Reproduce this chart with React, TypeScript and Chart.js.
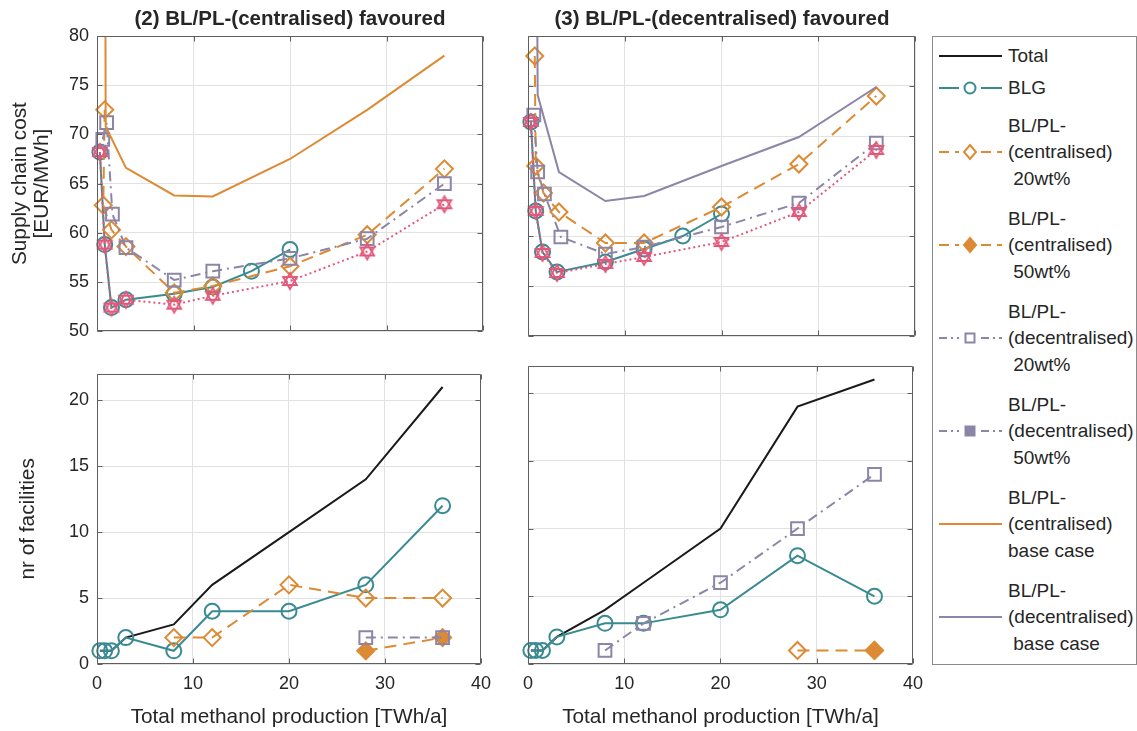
import React, { useEffect, useRef } from 'react';
import { Chart, registerables } from 'chart.js';

Chart.register(...registerables);

const FONT = '"Liberation Sans", Arial, Helvetica, sans-serif';
const C_TEAL = '#3a8b91';
const C_ORANGE = '#dc8a33';
const C_PURPLE = '#8c85a7';
const C_PINK = '#e2587a';
const C_BLACK = '#1a1a1a';
const C_AXIS = '#5f5f5f';
const C_GRID = '#e2e2e2';
const C_TEXT = '#262626';

// ---------- tick values ----------
const xTicks = [0, 10, 20, 30, 40];
const costTicks = [50, 55, 60, 65, 70, 75, 80];
const facTicks = [0, 5, 10, 15, 20];

// ---------- (2) centralised favoured: supply chain cost ----------
const tlBlgX = [0.3, 0.8, 1.5, 3, 8, 12, 16, 20];
const tlBlgY = [68.2, 58.8, 52.4, 53.2, 53.8, 54.5, 56.1, 58.3];
const tlCen20X = [0.8, 0.65, 1.5, 3, 8, 12, 20, 28, 36];
const tlCen20Y = [72.5, 62.8, 60.3, 58.6, 53.9, 54.6, 56.6, 59.8, 66.5];
const tlDec20X = [0.6, 1.0, 1.6, 3, 8, 12, 20, 28, 36];
const tlDec20Y = [69.5, 71.2, 61.9, 58.5, 55.2, 56.1, 57.4, 59.4, 65.0];
const tlCenBaseX = [0.8, 0.9, 3, 8, 12, 20, 28, 36];
const tlCenBaseY = [110, 70.8, 66.6, 63.8, 63.7, 67.5, 72.5, 78.0];
const tlMinX = [0.3, 0.8, 1.5, 3, 8, 12, 20, 28, 36];
const tlMinY = [68.2, 58.8, 52.4, 53.2, 52.7, 53.6, 55.1, 58.1, 62.9];

// ---------- (3) decentralised favoured: supply chain cost ----------
const trBlgX = [0.3, 0.8, 1.5, 3, 8, 12, 16, 20];
const trBlgY = [71.4, 62.5, 58.4, 56.4, 57.4, 58.7, 60.0, 62.2];
const trCen20X = [0.7, 0.8, 1.6, 3.2, 8, 12, 20, 28, 36];
const trCen20Y = [78.0, 67.0, 64.3, 62.4, 59.3, 59.3, 62.9, 67.2, 74.0];
const trDec20X = [0.6, 1.0, 1.7, 3.4, 8, 12, 20, 28, 36];
const trDec20Y = [72.1, 66.4, 64.2, 59.9, 58.2, 58.9, 60.9, 63.3, 69.3];
const trDecBaseX = [0.8, 1.0, 3.2, 8, 12, 20, 28, 36];
const trDecBaseY = [110, 74.1, 66.4, 63.5, 64.0, 67.0, 69.9, 74.9];
const trMinX = [0.3, 0.8, 1.5, 3, 8, 12, 20, 28, 36];
const trMinY = [71.4, 62.5, 58.3, 56.3, 57.2, 57.9, 59.4, 62.4, 68.6];

// ---------- (2) centralised favoured: nr of facilities ----------
const blTotalX = [0.3, 0.8, 1.5, 3, 8, 12, 20, 28, 36];
const blTotalY = [1, 1, 1, 2, 3, 6, 10, 14, 21];
const blBlgX = [0.3, 0.8, 1.5, 3, 8, 12, 20, 28, 36];
const blBlgY = [1, 1, 1, 2, 1, 4, 4, 6, 12];
const blCen20X = [8, 12, 20, 28, 36];
const blCen20Y = [2, 2, 6, 5, 5];
const blCen50X = [28, 36];
const blCen50Y = [1, 2];
const blDec20X = [28, 36];
const blDec20Y = [2, 2];

// ---------- (3) decentralised favoured: nr of facilities ----------
const brTotalX = [0.3, 0.8, 1.5, 3, 8, 12, 20, 28, 36];
const brTotalY = [1, 1, 1, 2, 4, 6, 10, 19, 21];
const brBlgX = [0.3, 0.8, 1.5, 3, 8, 12, 20, 28, 36];
const brBlgY = [1, 1, 1, 2, 3, 3, 4, 8, 5];
const brDec20X = [8, 12, 20, 28, 36];
const brDec20Y = [1, 3, 6, 10, 14];
const brCen20X = [28, 36];
const brCen20Y = [1, 1];
const brCen50X = [36];
const brCen50Y = [1];

const pts = (xs: number[], ys: number[]) => xs.map((x, i) => ({ x, y: ys[i] }));

function makeHexagram(color: string): HTMLCanvasElement {
  const s = 20;
  const c = document.createElement('canvas');
  c.width = s;
  c.height = s;
  const ctx = c.getContext('2d')!;
  ctx.strokeStyle = color;
  ctx.lineWidth = 1.8;
  ctx.lineJoin = 'miter';
  const r = 8;
  const cx = s / 2;
  const cy = s / 2;
  for (const start of [-90, 90]) {
    ctx.beginPath();
    for (let k = 0; k < 3; k++) {
      const a = ((start + k * 120) * Math.PI) / 180;
      const px = cx + r * Math.cos(a);
      const py = cy + r * Math.sin(a);
      if (k === 0) ctx.moveTo(px, py);
      else ctx.lineTo(px, py);
    }
    ctx.closePath();
    ctx.stroke();
  }
  return c;
}

type Kind = 'total' | 'blg' | 'cen20' | 'cen50' | 'dec20' | 'dec50' | 'cenBase' | 'decBase' | 'min';

function styleFor(kind: Kind, hex: HTMLCanvasElement): any {
  const common = { borderWidth: 2, showLine: true, backgroundColor: 'transparent', clip: false as any };
  switch (kind) {
    case 'total':
      return { ...common, borderColor: C_BLACK, pointRadius: 0 };
    case 'blg':
      return { ...common, borderColor: C_TEAL, pointStyle: 'circle', pointRadius: 7.5, pointBorderWidth: 2, pointBackgroundColor: 'transparent' };
    case 'cen20':
      return { ...common, borderColor: C_ORANGE, borderDash: [12, 7], pointStyle: 'rectRot', pointRadius: 8.5, pointBorderWidth: 2, pointBackgroundColor: 'transparent' };
    case 'cen50':
      return { ...common, borderColor: C_ORANGE, borderDash: [12, 7], pointStyle: 'rectRot', pointRadius: 8.5, pointBorderWidth: 2, pointBackgroundColor: C_ORANGE };
    case 'dec20':
      return { ...common, borderColor: C_PURPLE, borderDash: [10, 5, 2, 5], pointStyle: 'rect', pointRadius: 9, pointBorderWidth: 2, pointBackgroundColor: 'transparent' };
    case 'dec50':
      return { ...common, borderColor: C_PURPLE, borderDash: [10, 5, 2, 5], pointStyle: 'rect', pointRadius: 9, pointBorderWidth: 2, pointBackgroundColor: C_PURPLE };
    case 'cenBase':
      return { ...common, clip: undefined, borderColor: C_ORANGE, pointRadius: 0 };
    case 'decBase':
      return { ...common, clip: undefined, borderColor: C_PURPLE, pointRadius: 0 };
    case 'min':
      return { ...common, borderColor: C_PINK, borderDash: [2, 3], pointStyle: hex, pointRadius: 8 };
  }
}

const boxPlugin = {
  id: 'matlabBox',
  afterDraw(chart: any) {
    const { ctx, chartArea: a, scales } = chart;
    const xs = scales.x;
    const ys = scales.y;
    const L = Math.round(a.left) + 0.5;
    const R = Math.round(a.right) - 0.5;
    const T = Math.round(a.top) + 0.5;
    const B = Math.round(a.bottom) - 0.5;
    ctx.save();
    ctx.strokeStyle = C_AXIS;
    ctx.lineWidth = 1;
    ctx.setLineDash([]);
    ctx.beginPath();
    ctx.rect(L, T, R - L, B - T);
    const tl = 5;
    for (const t of xs.ticks) {
      const p = Math.round(xs.getPixelForValue(t.value)) + 0.5;
      ctx.moveTo(p, B);
      ctx.lineTo(p, B - tl);
      ctx.moveTo(p, T);
      ctx.lineTo(p, T + tl);
    }
    for (const t of ys.ticks) {
      const p = Math.round(ys.getPixelForValue(t.value)) + 0.5;
      ctx.moveTo(L, p);
      ctx.lineTo(L + tl, p);
      ctx.moveTo(R, p);
      ctx.lineTo(R - tl, p);
    }
    ctx.stroke();
    ctx.restore();
  },
};

type PanelDef = {
  left: number;
  top: number;
  width: number;
  height: number;
  padTop: number;
  padRight: number;
  yWidth: number;
  xHeight: number;
  yMin: number;
  yMax: number;
  yTicks: number[];
  showYLabels: boolean;
  yTitle: string[] | null;
  yTitlePad: number;
  showXLabels: boolean;
  xTitle: string | null;
  series: [Kind, number[], number[]][];
};

const ORDER: Kind[] = ['total', 'blg', 'cen20', 'cen50', 'dec20', 'dec50', 'cenBase', 'decBase', 'min'];

const xTitleText = 'Total methanol production [TWh/a]';

const LABEL_SIZE = 20.8;
const TICK_SIZE = 18;

const panels: PanelDef[] = [
  {
    left: 0, top: 0, width: 500, height: 350, padTop: 36, padRight: 17, yWidth: 97, xHeight: 14,
    yMin: 50, yMax: 80, yTicks: costTicks, showYLabels: true, yTitle: ['Supply chain cost', '[EUR/MWh]'], yTitlePad: 9,
    showXLabels: false, xTitle: null,
    series: [
      ['blg', tlBlgX, tlBlgY],
      ['cen20', tlCen20X, tlCen20Y],
      ['dec20', tlDec20X, tlDec20Y],
      ['cenBase', tlCenBaseX, tlCenBaseY],
      ['min', tlMinX, tlMinY],
    ],
  },
  {
    left: 500, top: 0, width: 432, height: 350, padTop: 36, padRight: 17, yWidth: 28, xHeight: 14,
    yMin: 50, yMax: 80, yTicks: costTicks, showYLabels: false, yTitle: null, yTitlePad: 0,
    showXLabels: false, xTitle: null,
    series: [
      ['blg', trBlgX, trBlgY],
      ['cen20', trCen20X, trCen20Y],
      ['dec20', trDec20X, trDec20Y],
      ['decBase', trDecBaseX, trDecBaseY],
      ['min', trMinX, trMinY],
    ],
  },
  {
    left: 0, top: 355, width: 500, height: 376, padTop: 10, padRight: 17, yWidth: 97, xHeight: 67,
    yMin: 0, yMax: 22, yTicks: facTicks, showYLabels: true, yTitle: ['nr of facilities'], yTitlePad: 17,
    showXLabels: true, xTitle: xTitleText,
    series: [
      ['total', blTotalX, blTotalY],
      ['blg', blBlgX, blBlgY],
      ['cen20', blCen20X, blCen20Y],
      ['cen50', blCen50X, blCen50Y],
      ['dec20', blDec20X, blDec20Y],
    ],
  },
  {
    left: 500, top: 355, width: 432, height: 376, padTop: 10, padRight: 17, yWidth: 28, xHeight: 67,
    yMin: 0, yMax: 22, yTicks: facTicks, showYLabels: false, yTitle: null, yTitlePad: 0,
    showXLabels: true, xTitle: xTitleText,
    series: [
      ['total', brTotalX, brTotalY],
      ['blg', brBlgX, brBlgY],
      ['cen20', brCen20X, brCen20Y],
      ['cen50', brCen50X, brCen50Y],
      ['dec20', brDec20X, brDec20Y],
    ],
  },
];

function Panel({ def }: { def: PanelDef }) {
  const ref = useRef<HTMLCanvasElement | null>(null);
  useEffect(() => {
    if (!ref.current) return;
    const hex = makeHexagram(C_PINK);
    const sorted = [...def.series].sort((a, b) => ORDER.indexOf(a[0]) - ORDER.indexOf(b[0]));
    const n = sorted.length;
    const datasets = sorted.map(([kind, xs, ys], i) => ({
      label: kind,
      data: pts(xs, ys),
      order: n - i,
      ...styleFor(kind, hex),
    }));
    const chart = new Chart(ref.current, {
      type: 'scatter',
      data: { datasets },
      options: {
        responsive: false,
        animation: false,
        devicePixelRatio: 1,
        layout: { padding: { top: def.padTop, right: def.padRight, left: 0, bottom: 0 } },
        plugins: { legend: { display: false }, tooltip: { enabled: false }, title: { display: false } },
        scales: {
          x: {
            type: 'linear',
            min: 0,
            max: 40,
            afterBuildTicks: (s: any) => { s.ticks = xTicks.map((v) => ({ value: v })); },
            afterFit: (s: any) => { s.height = def.xHeight; },
            grid: { color: C_GRID, drawTicks: false, lineWidth: 1 },
            border: { display: false },
            ticks: {
              display: def.showXLabels,
              padding: 9,
              color: C_TEXT,
              font: { family: FONT, size: TICK_SIZE },
              maxRotation: 0,
            },
            title: def.xTitle
              ? { display: true, text: def.xTitle, color: C_TEXT, font: { family: FONT, size: LABEL_SIZE, lineHeight: 1.2 }, padding: { top: 0, bottom: 1 } }
              : { display: false },
          },
          y: {
            type: 'linear',
            min: def.yMin,
            max: def.yMax,
            afterBuildTicks: (s: any) => { s.ticks = def.yTicks.map((v) => ({ value: v })); },
            afterFit: (s: any) => { s.width = def.yWidth; },
            grid: { color: C_GRID, drawTicks: false, lineWidth: 1 },
            border: { display: false },
            ticks: {
              display: def.showYLabels,
              padding: 8,
              color: C_TEXT,
              font: { family: FONT, size: TICK_SIZE },
            },
            title: def.yTitle
              ? {
                  display: true,
                  text: def.yTitle.length === 1 ? def.yTitle[0] : def.yTitle,
                  color: C_TEXT,
                  font: { family: FONT, size: LABEL_SIZE, lineHeight: 22 / LABEL_SIZE },
                  padding: { top: def.yTitlePad, bottom: 0 },
                }
              : { display: false },
          },
        },
      },
      plugins: [boxPlugin],
    } as any);
    return () => chart.destroy();
  }, [def]);
  return (
    <canvas
      ref={ref}
      width={def.width}
      height={def.height}
      style={{ position: 'absolute', left: def.left, top: def.top, width: def.width, height: def.height }}
    />
  );
}

type LegendEntry = { kind: Kind; y: number; lines: string[] };
const legendEntries: LegendEntry[] = [
  { kind: 'total', y: 56, lines: ['Total'] },
  { kind: 'blg', y: 88, lines: ['BLG'] },
  { kind: 'cen20', y: 152, lines: ['BL/PL-', '(centralised)', ' 20wt%'] },
  { kind: 'cen50', y: 245, lines: ['BL/PL-', '(centralised)', ' 50wt%'] },
  { kind: 'dec20', y: 338, lines: ['BL/PL-', '(decentralised)', ' 20wt%'] },
  { kind: 'dec50', y: 431, lines: ['BL/PL-', '(decentralised)', ' 50wt%'] },
  { kind: 'cenBase', y: 524, lines: ['BL/PL-', '(centralised)', 'base case'] },
  { kind: 'decBase', y: 617, lines: ['BL/PL-', '(decentralised)', ' base case'] },
];

const LEG_LEFT = 932;
const LEG_TOP = 36;

function LegendSymbol({ kind, y }: { kind: Kind; y: number }) {
  const x1 = 939 - LEG_LEFT;
  const x2 = 1002 - LEG_LEFT;
  const cx = 970 - LEG_LEFT;
  const cy = y - LEG_TOP;
  let color = C_BLACK;
  let dash: string | undefined;
  if (kind === 'blg') color = C_TEAL;
  if (kind === 'cen20' || kind === 'cen50' || kind === 'cenBase') color = C_ORANGE;
  if (kind === 'dec20' || kind === 'dec50' || kind === 'decBase') color = C_PURPLE;
  if (kind === 'cen20' || kind === 'cen50') dash = '10 6';
  if (kind === 'dec20' || kind === 'dec50') dash = '8 4 2 4';
  let marker: any = null;
  if (kind === 'blg') marker = <circle cx={cx} cy={cy} r={5.5} fill="#fff" stroke={color} strokeWidth={2} />;
  if (kind === 'cen20' || kind === 'cen50') {
    const d = 7;
    marker = (
      <polygon
        points={`${cx},${cy - d} ${cx + d - 1},${cy} ${cx},${cy + d} ${cx - d + 1},${cy}`}
        fill={kind === 'cen50' ? color : '#fff'}
        stroke={color}
        strokeWidth={2}
      />
    );
  }
  if (kind === 'dec20' || kind === 'dec50') {
    const d = 4.5;
    marker = <rect x={cx - d} y={cy - d} width={2 * d} height={2 * d} fill={kind === 'dec50' ? color : '#fff'} stroke={color} strokeWidth={2} />;
  }
  const gap = marker ? 11 : 0;
  return (
    <g>
      {marker ? (
        <>
          <line x1={x1} y1={cy} x2={cx - gap} y2={cy} stroke={color} strokeWidth={2} strokeDasharray={dash} />
          <line x1={cx + gap} y1={cy} x2={x2} y2={cy} stroke={color} strokeWidth={2} strokeDasharray={dash} />
        </>
      ) : (
        <line x1={x1} y1={cy} x2={x2} y2={cy} stroke={color} strokeWidth={2} strokeDasharray={dash} />
      )}
      {marker}
    </g>
  );
}

function Legend() {
  const width = 205;
  const height = 629;
  return (
    <>
      <div
        style={{
          position: 'absolute',
          left: LEG_LEFT,
          top: LEG_TOP,
          width,
          height,
          boxSizing: 'border-box',
          border: '1px solid #8a8a8a',
          background: '#fff',
        }}
      />
      <svg style={{ position: 'absolute', left: LEG_LEFT, top: LEG_TOP }} width={width} height={height}>
        {legendEntries.map((e) => (
          <LegendSymbol key={e.kind} kind={e.kind} y={e.y} />
        ))}
      </svg>
      {legendEntries.map((e) =>
        e.lines.map((ln, i) => {
          const cy = e.lines.length === 1 ? e.y : e.y + (i - 1) * 26.5;
          return (
            <div
              key={e.kind + i}
              style={{
                position: 'absolute',
                left: 1008,
                top: cy - 12,
                height: 24,
                lineHeight: '24px',
                fontFamily: FONT,
                fontSize: 19,
                color: C_TEXT,
                whiteSpace: 'pre',
              }}
            >
              {ln}
            </div>
          );
        })
      )}
    </>
  );
}

const titleStyle: React.CSSProperties = {
  position: 'absolute',
  top: 6,
  height: 24,
  lineHeight: '24px',
  fontFamily: FONT,
  fontWeight: 'bold',
  fontSize: 20.5,
  color: C_TEXT,
  textAlign: 'center',
  whiteSpace: 'nowrap',
};

export default function App() {
  return (
    <div style={{ position: 'absolute', left: 0, top: 0, width: 1137, height: 731, background: '#fff', overflow: 'hidden' }}>
      {panels.map((p, i) => (
        <Panel key={i} def={p} />
      ))}
      <div style={{ ...titleStyle, left: 90, width: 400 }}>(2) BL/PL-(centralised) favoured</div>
      <div style={{ ...titleStyle, left: 522, width: 400 }}>(3) BL/PL-(decentralised) favoured</div>
      <Legend />
    </div>
  );
}
